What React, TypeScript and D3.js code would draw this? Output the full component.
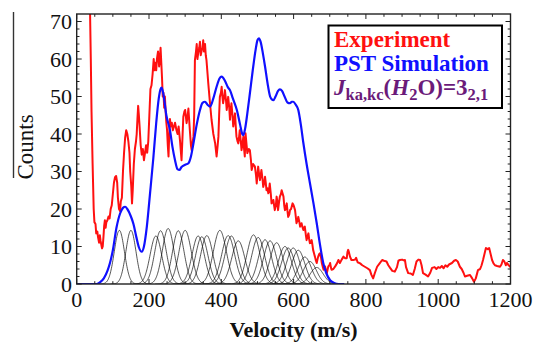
import React from "react";
import * as d3 from "d3";

const W = 535, H = 344;

// Experiment (red) : velocity (m/s), counts
const expV = [34,37,39,41,44,47,49,52,54,57,59,62,64,66,68,70,72,74,76,78,80,82,85,88,91,94,97,100,103,106,109,112,114,117,120,122,125,128,131,134,137,140,143,146,148,151,153,155,158,161,164,166,168,170,172,174,177,180,183,186,189,192,195,198,201,204,207,210,213,215,217,220,222,225,228,230,232,234,236,238,240,242,244,246,248,250,252,254,256,258,260,263,266,269,272,276,279,282,286,290,293,295,298,300,304,307,309,313,316,318,321,323,325,327,330,332,334,336,339,341,343,346,348,350,352,355,357,359,362,364,368,373,378,383,387,390,392,394,396,399,401,403,405,408,410,413,415,417,419,422,424,426,428,431,433,436,438,440,442,445,447,449,451,454,456,458,461,463,465,467,470,472,476,479,482,484,488,493,496,498,500,502,505,507,509,511,514,516,519,521,523,525,528,530,532,534,537,539,542,544,546,548,551,553,555,557,560,562,565,567,570,572,574,576,578,581,583,585,588,590,593,597,600,604,606,608,611,613,616,618,620,622,625,627,629,631,634,636,638,641,643,645,648,650,652,654,657,659,661,664,666,668,671,673,676,678,681,683,685,687,690,692,694,696,699,701,703,705,710,715,720,724,728,733,738,742,747,749,751,753,756,760,765,770,773,777,784,790,797,804,811,815,820,825,831,838,845,850,857,862,867,873,880,886,890,894,900,905,908,911,917,924,930,935,940,945,950,954,958,965,972,978,983,990,995,1000,1005,1010,1015,1020,1025,1030,1038,1044,1049,1054,1060,1065,1070,1074,1080,1088,1094,1099,1104,1110,1116,1120,1124,1128,1132,1137,1141,1145,1149,1153,1157,1163,1171,1175,1179,1183,1187,1190,1195,1200];
const expC = [80,72,60,46,32,20,16.5,16,13.5,14,12.5,11,13,11.5,10.5,9.5,10,12.5,15.5,17,15,16.5,17,18,17.5,20,21,24,27,28.5,28.8,27,23,20,19.5,22,23,30,35,39,41,40,38,35,30,26,21.5,25,32,36,38,40,44,47.5,45,42,37,34.5,36,33,35,37,35,38,45,52,53,56,60,57,59,57,60,62,58,60,63,59,55,50,51,47,50,46,43,41,37,34,40,44,42,43,41,42,43,41,40,42,38,33,40,44.6,46,46.4,42.9,45,46.8,41,37,35.7,38,39.3,45,59.7,62,64,60,61.5,63,64.6,61,62.4,63,65,62,64,61,59.7,56,53.5,49,43.8,40,37.5,34,37,39.3,45,49.9,51,52.6,50,48.2,50,51.7,49,46.4,48,49.9,47,43.8,46,48.2,45,42,44,45.5,42,39.3,38,37.5,39,41,38,35.7,37,39.3,36,34,40.2,37,34.9,36,35.7,33,30.4,32,31.3,29,26.8,29,31.3,29,27.7,29,30.4,28,25.9,27,28.6,27,25,25.5,24.2,25,26.8,24,21.5,22,22.4,21,19.7,21,23.3,22,19.7,22,23.3,24,25,24,23.3,21,19.7,20,21.5,19.5,17.9,18.5,19.7,20,21.5,21,19.7,18,16.2,17,17.9,16.5,15.3,15.8,16.2,15,14.4,15,15.3,13,11.7,12.5,13.5,12,10.9,11,11.7,10.5,9.1,8,7.3,6.5,5.6,6.5,7.3,8,8.2,7,5.6,4.5,3.8,4.2,4.7,3.5,2.9,3.8,4.7,5,5.6,4.5,3.8,4,4.7,5.5,6.4,5.6,6.5,7.3,6.9,6.9,8.5,9.1,8.5,7.3,6.4,6.4,6.5,7,5.8,5.5,5,4.6,4.2,3.7,2.5,1.5,3,4.6,5.5,6.4,6.2,6,5,4.3,3.5,3.3,4.5,6.2,6.4,6.5,6.3,6.4,4.5,2.9,2.8,2.4,4,6,6.5,6.4,5,2.9,2.5,2,3,4.3,4.5,4,4.5,4.3,4.8,4.2,5,4.6,5.2,5.6,6.2,6.4,6,4.6,4,3,2,2.2,2.4,1.5,0.6,1.5,3.7,4,5,6.4,8,9.6,9.3,9.6,8,6.4,5.5,5,4.8,4.6,5.2,6.4,6,5,5.6,5,4.5];

// PST simulation (blue)
const pstV = [0,40,55,65,75,85,92,100,110,120,128,134,140,150,157,165,172,180,186,194,203,212,220,227,232,235,240,248,258,265,272,279,284,290,300,309,316,323,332,341,348,355,362,369,378,387,395,401,410,418,424,432,443,452,458,461,466,472,479,487,495,500,504,509,515,521,528,535,540,544,550,557,562,568,575,583,590,595,599,606,613,620,627,636,645,655,664,673,682,690,701,712,725,740];
const pstC = [0,0,0,0.5,1.5,3.5,5.6,9,15,18.8,20.3,20.6,20,18,16,12.5,9.8,8.6,10,15.3,24.3,33.6,43,49.5,52,52.4,50.5,45,41,36.5,33,30.6,30.4,31.2,31.8,32.2,34,37.5,42.5,46.4,48.3,48.6,47.8,47.3,49.5,52.6,54.8,55.3,54.2,52.5,51.7,49.5,46.4,42.5,40,39.7,41.5,45.5,50.8,57,62.5,65,65.5,64.5,61.5,58,53.5,50,49.2,49,50,51.5,51.9,51.5,50,48.4,48.2,48.6,48.6,47.8,46.4,42.5,37.6,32,27,21.5,16.2,10.5,5.6,3,1,0.3,0,0];

// Individual components (black)
const compCenter = [118,150,219,232,253,281,300,336,346,360,396,419,428,447,489,502,521,535,553,576,585,599,613,631,645,664];
const compHeight = [14.3,14.3,12.8,14.2,14.8,14.2,14.3,12.8,12.6,12.9,14.3,12.9,12.8,11.5,13.1,12.4,11.8,11.5,11.0,10.0,9.6,9.6,9.0,7.2,6.0,4.4];
const compWidth = [14,14,16,16,16,16,17,17,17,17,18,18,18,18,18,18,18,18,18,18,18,18,18,18,18,18];

const xTicks = [0,200,400,600,800,1000,1200];
const yTicks = [0,10,20,30,40,50,60,70];

export default function App() {
  const L = 76.7, R = 510.5, T = 14, B = 284;
  const x = d3.scaleLinear().domain([0, 1200]).range([L, R]);
  const y = d3.scaleLinear().domain([0, 72]).range([B, T]);
  const font = "'Liberation Serif', 'Times New Roman', serif";

  const redLine = d3.line<number>().x((_, i) => x(expV[i])).y((d) => y(d));
  const blueLine = d3.line<number>().x((_, i) => x(pstV[i])).y((d) => y(d)).curve(d3.curveMonotoneX);
  const compLine = d3.line<[number, number]>().x((d) => x(d[0])).y((d) => y(d[1]));

  const comps = compCenter.map((c, k) => {
    const s = compWidth[k];
    const pts: [number, number][] = [];
    for (let v = Math.max(0, c - 4 * s); v <= c + 4 * s; v += 1) {
      pts.push([v, compHeight[k] * Math.exp(-((v - c) * (v - c)) / (2 * s * s))]);
    }
    return compLine(pts) as string;
  });

  const xMinor = d3.range(0, 1201, 50);
  const yMinor = d3.range(0, 72, 2);

  return (
    <svg width={W} height={H} style={{ position: "absolute", left: 0, top: 0, background: "#fff" }}>
      <defs>
        <clipPath id="plot">
          <rect x={L} y={T} width={R - L} height={B - T} />
        </clipPath>
      </defs>
      <g clipPath="url(#plot)">
        {comps.map((d, i) => (
          <path key={i} d={d} fill="none" stroke="#000" strokeOpacity={0.75} strokeWidth={0.9} />
        ))}
        <path d={redLine(expC) as string} fill="none" stroke="#ff1010" strokeWidth={2} strokeLinejoin="round" />
        <path d={blueLine(pstC) as string} fill="none" stroke="#1010ff" strokeWidth={2.2} />
      </g>
      {/* frame */}
      <rect x={L} y={T} width={R - L} height={B - T} fill="none" stroke="#222" strokeWidth={1.4} />
      {xMinor.map((t) => {
        const len = t % 200 === 0 ? 5 : 2.8;
        return (
          <g key={"xt" + t} stroke="#222" strokeWidth={1}>
            <line x1={x(t)} x2={x(t)} y1={B} y2={B - len} />
            <line x1={x(t)} x2={x(t)} y1={T} y2={T + len} />
          </g>
        );
      })}
      {yMinor.map((t) => {
        const len = t % 10 === 0 ? 5 : 2.8;
        return (
          <g key={"yt" + t} stroke="#222" strokeWidth={1}>
            <line x1={L} x2={L + len} y1={y(t)} y2={y(t)} />
            <line x1={R} x2={R - len} y1={y(t)} y2={y(t)} />
          </g>
        );
      })}
      {xTicks.map((t) => (
        <text key={"xl" + t} x={x(t)} y={306.5} textAnchor="middle" fontFamily={font} fontSize={22} fill="#111">
          {t}
        </text>
      ))}
      {yTicks.map((t) => (
        <text key={"yl" + t} x={72} y={y(t)} dy="0.35em" textAnchor="end" fontFamily={font} fontSize={22} fill="#111">
          {t}
        </text>
      ))}
      <text x={(L + R) / 2} y={337} textAnchor="middle" fontFamily={font} fontSize={22} fontWeight="bold" fill="#111">
        Velocity (m/s)
      </text>
      <text transform="translate(33,147) rotate(-90)" textAnchor="middle" fontFamily={font} fontSize={23} fill="#111">
        Counts
      </text>
      <line x1={13.5} x2={13.5} y1={12} y2={178} stroke="#333" strokeWidth={1.4} />
      {/* legend */}
      <rect x={328.5} y={25.5} width={173.5} height={82.5} fill="#fff" stroke="#000" strokeWidth={2} />
      <text x={334} y={46.5} fontFamily={font} fontSize={23} fontWeight="bold" fill="#ff1010">Experiment</text>
      <text x={334} y={70.5} fontFamily={font} fontSize={23} fontWeight="bold" fill="#1010ff">PST Simulation</text>
      <text x={334} y={95} fontFamily={font} fontSize={23} fontWeight="bold" fill="#6b1a7a">
        <tspan fontStyle="italic">J</tspan>
        <tspan fontSize={16.5} dy={5}>ka,kc</tspan>
        <tspan dy={-5}>(</tspan>
        <tspan fontStyle="italic">H</tspan>
        <tspan fontSize={16.5} dy={5}>2</tspan>
        <tspan dy={-5}>O)=3</tspan>
        <tspan fontSize={16.5} dy={5}>2,1</tspan>
      </text>
    </svg>
  );
}
